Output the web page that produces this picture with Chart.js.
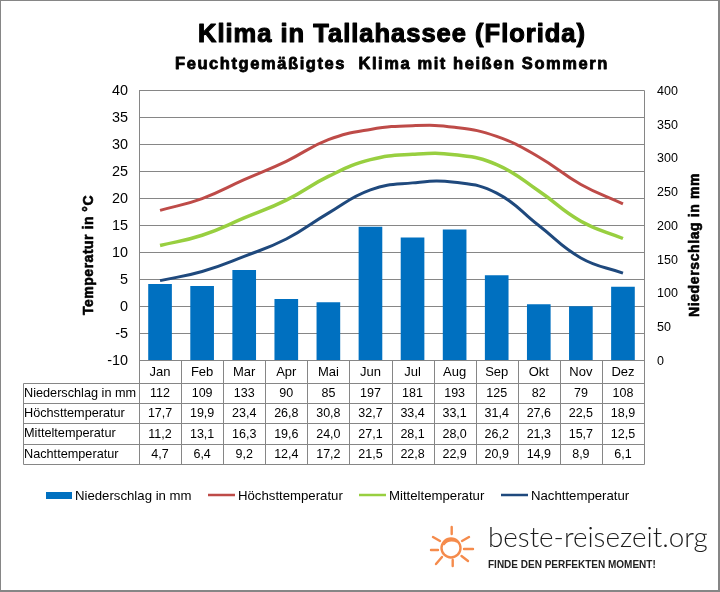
<!DOCTYPE html>
<html lang="de">
<head>
<meta charset="utf-8">
<title>Klima in Tallahassee</title>
<script src="https://cdn.jsdelivr.net/npm/chart.js@4"></script>
<style>
  html, body { margin: 0; padding: 0; background: #fff; }
  #wrap { position: relative; width: 720px; height: 592px; }
  #wrap::after { content: ''; position: absolute; inset: 0; border: 1px solid #868686; border-width: 1px 2px 2px 1px; pointer-events: none; }
  canvas { display: block; }
</style>
</head>
<body>
<div id="wrap"><canvas id="klima" width="720" height="592"></canvas></div>
<script>
const monate = ['Jan', 'Feb', 'Mar', 'Apr', 'Mai', 'Jun', 'Jul', 'Aug', 'Sep', 'Okt', 'Nov', 'Dez'];
const niederschlag = [112, 109, 133, 90, 85, 197, 181, 193, 125, 82, 79, 108];
const hoechst = [17.7, 19.9, 23.4, 26.8, 30.8, 32.7, 33.4, 33.1, 31.4, 27.6, 22.5, 18.9];
const mittel = [11.2, 13.1, 16.3, 19.6, 24.0, 27.1, 28.1, 28.0, 26.2, 21.3, 15.7, 12.5];
const nacht = [4.7, 6.4, 9.2, 12.4, 17.2, 21.5, 22.8, 22.9, 20.9, 14.9, 8.9, 6.1];

const FONT = '"Liberation Sans", Arial, sans-serif';
const GRAU = '#868686';

const komma = (v) => v.toFixed(1).replace('.', ',');

// fette Schrift mit Kontur, auf eine feste Breite gesperrt
const fettText = (ctx, text, x, y, breite, groesse, kontur) => {
    ctx.font = 'bold ' + groesse + 'px ' + FONT;
    ctx.letterSpacing = '0px';
    const frei = breite - ctx.measureText(text).width;
    ctx.letterSpacing = (frei / text.length).toFixed(2) + 'px';
    ctx.textAlign = 'left';
    ctx.textBaseline = 'alphabetic';
    ctx.fillStyle = '#000';
    ctx.strokeStyle = '#000';
    ctx.lineWidth = kontur;
    ctx.lineJoin = 'round';
    ctx.fillText(text, x, y);
    ctx.strokeText(text, x, y);
    ctx.letterSpacing = '0px';
};

const senkrecht = (ctx, text, x, y, breite, groesse, kontur) => {
    ctx.save();
    ctx.translate(x, y);
    ctx.rotate(-Math.PI / 2);
    fettText(ctx, text, -breite / 2, 0, breite, groesse, kontur);
    ctx.restore();
};

// Titel, Tabelle unter dem Diagramm, Legende und Logo
const extras = {
    id: 'extras',
    afterDraw(chart) {
        const { ctx, chartArea: area, scales: { x } } = chart;
        const spalte = (area.right - area.left) / monate.length;
        const zeilen = [
            ['Niederschlag in mm', niederschlag.map(String)],
            ['Höchsttemperatur', hoechst.map(komma)],
            ['Mitteltemperatur', mittel.map(komma)],
            ['Nachttemperatur', nacht.map(komma)]
        ];
        const kanten = [383, 403, 423, 444, 464];
        const links = 23;

        ctx.save();
        fettText(ctx, 'Klima in Tallahassee (Florida)', 198, 42, 388, 25.5, 1.1);
        fettText(ctx, 'Feuchtgemäßigtes  Klima mit heißen Sommern', 175, 69, 434, 16.5, 0.8);
        senkrecht(ctx, 'Temperatur in °C', 93, 255, 120, 14, 0.6);
        senkrecht(ctx, 'Niederschlag in mm', 699, 245, 144, 14, 0.6);

        ctx.strokeStyle = GRAU;
        ctx.lineWidth = 1;
        ctx.beginPath();
        // Rahmen der Zeichenfläche
        ctx.rect(area.left + 0.5, area.top + 0.5, area.right - area.left, area.bottom - area.top);
        kanten.forEach((y) => {
            ctx.moveTo(links + 0.5, y + 0.5);
            ctx.lineTo(area.right + 0.5, y + 0.5);
        });
        ctx.moveTo(links + 0.5, kanten[0] + 0.5);
        ctx.lineTo(links + 0.5, kanten[4] + 0.5);
        for (let i = 0; i <= monate.length; i++) {
            const px = Math.round(area.left + i * spalte) + 0.5;
            ctx.moveTo(px, area.bottom);
            ctx.lineTo(px, kanten[4] + 0.5);
        }
        ctx.stroke();

        ctx.fillStyle = '#000';
        ctx.textBaseline = 'middle';
        zeilen.forEach(([name, werte], r) => {
            const mitte = (kanten[r] + kanten[r + 1]) / 2 + 1;
            ctx.font = '12.7px ' + FONT;
            ctx.textAlign = 'left';
            ctx.fillText(name, links + 1, mitte - 1);
            ctx.font = '12.5px ' + FONT;
            ctx.textAlign = 'center';
            werte.forEach((w, i) => ctx.fillText(w, x.getPixelForValue(i), mitte));
        });

        // Legende
        const legende = [
            [46, 'Niederschlag in mm', 75],
            [208, 'Höchsttemperatur', 238],
            [359, 'Mitteltemperatur', 389],
            [501, 'Nachttemperatur', 531]
        ];
        ctx.font = '13.2px ' + FONT;
        ctx.textAlign = 'left';
        legende.forEach(([lx, text, tx]) => {
            const d = chart.data.datasets.find((e) => e.label === text);
            if (d.type === 'bar') {
                ctx.fillStyle = d.backgroundColor;
                ctx.fillRect(lx, 492, 26, 7);
            } else {
                ctx.strokeStyle = d.borderColor;
                ctx.lineWidth = 2.5;
                ctx.beginPath();
                ctx.moveTo(lx, 495);
                ctx.lineTo(lx + 27, 495);
                ctx.stroke();
            }
            ctx.fillStyle = '#000';
            ctx.fillText(text, tx, 496);
        });

        // Logo: Sonne mit acht Strahlen
        const strahlen = [
            [451.7, 527, 451.7, 534], [462, 541, 469, 537], [464, 549, 473, 549], [461.5, 556, 468, 561],
            [452.7, 560, 452.7, 566], [442, 557, 436, 564], [438, 550, 431, 550], [440, 541, 433, 537]
        ];
        ctx.strokeStyle = '#f58b4c';
        ctx.lineWidth = 2.4;
        ctx.lineCap = 'round';
        ctx.beginPath();
        ctx.arc(451, 548, 9.5, 0, Math.PI * 2);
        ctx.moveTo(444, 544);
        ctx.quadraticCurveTo(449, 538, 458, 542);
        strahlen.forEach(([x1, y1, x2, y2]) => {
            ctx.moveTo(x1, y1);
            ctx.lineTo(x2, y2);
        });
        ctx.stroke();
        ctx.fillStyle = '#1c1c1c';
        ctx.font = '300 27.8px Lato, ' + FONT;
        ctx.fillText('beste-reisezeit.org', 488, 538);
        ctx.font = 'bold 10px ' + FONT;
        ctx.fillStyle = '#222';
        ctx.fillText('FINDE DEN PERFEKTEN MOMENT!', 488, 565);
        ctx.restore();
    }
};

new Chart(document.getElementById('klima'), {
    data: {
        labels: monate,
        datasets: [
            { type: 'bar', label: 'Niederschlag in mm', data: niederschlag, yAxisID: 'y2', backgroundColor: '#0070c0', borderColor: '#0070c0', barThickness: 23, order: 2 },
            { type: 'line', label: 'Höchsttemperatur', data: hoechst, yAxisID: 'y', borderColor: '#be4b48', borderWidth: 3, pointRadius: 0, tension: 0.45, order: 1 },
            { type: 'line', label: 'Mitteltemperatur', data: mittel, yAxisID: 'y', borderColor: '#98cf40', borderWidth: 3.5, pointRadius: 0, tension: 0.45, order: 1 },
            { type: 'line', label: 'Nachttemperatur', data: nacht, yAxisID: 'y', borderColor: '#1f497d', borderWidth: 3, pointRadius: 0, tension: 0.45, order: 1 }
        ]
    },
    options: {
        responsive: false,
        animation: false,
        layout: { padding: { left: 76, right: 18, top: 90, bottom: 209 } },
        plugins: {
            legend: { display: false },
            tooltip: { enabled: false }
        },
        scales: {
            x: {
                grid: { display: false, drawTicks: false },
                border: { display: false },
                ticks: { color: '#000', font: { family: FONT, size: 13 }, padding: 5, maxRotation: 0 },
                afterFit(s) { s.height = 23; }
            },
            y: {
                position: 'left',
                min: -10,
                max: 40,
                grid: { color: GRAU, drawTicks: false },
                border: { display: false },
                ticks: { stepSize: 5, color: '#000', font: { family: FONT, size: 14.4 }, padding: 11, labelOffset: 1 },
                afterFit(s) { s.width = 63; }
            },
            y2: {
                position: 'right',
                min: 0,
                max: 400,
                grid: { display: false, drawTicks: false },
                border: { display: false },
                ticks: { stepSize: 50, color: '#000', font: { family: FONT, size: 12.5 }, padding: 13, labelOffset: 1.5 },
                afterFit(s) { s.width = 58; }
            }
        }
    },
    plugins: [extras]
});
</script>
</body>
</html>
